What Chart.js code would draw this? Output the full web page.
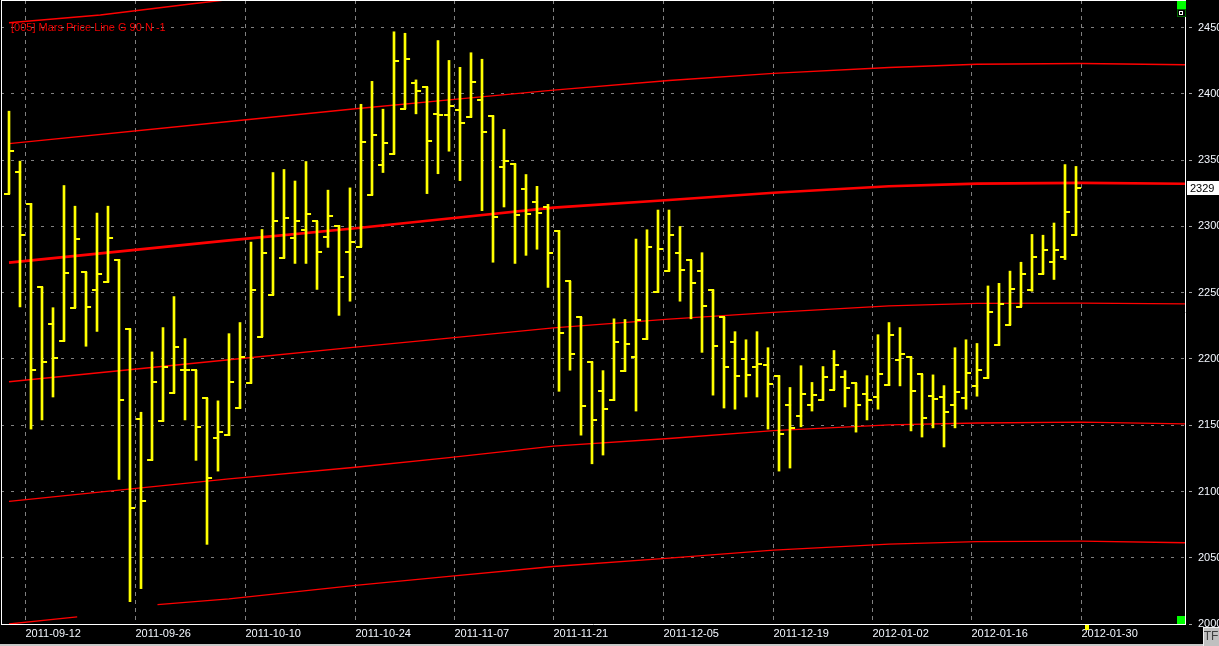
<!DOCTYPE html>
<html>
<head>
<meta charset="utf-8">
<script src="https://cdn.jsdelivr.net/npm/chart.js@4.4.1/dist/chart.umd.min.js"></script>
<style>
  html, body { margin: 0; padding: 0; background: #000; }
  canvas { display: block; }
</style>
</head>
<body>
<canvas id="chart" width="1219" height="646"></canvas>
<script>
// date labels and the bar each one starts at
const dateLabels = ['2011-09-12', '2011-09-26', '2011-10-10', '2011-10-24', '2011-11-07', '2011-11-21',
                    '2011-12-05', '2011-12-19', '2012-01-02', '2012-01-16', '2012-01-30'];
const dateBars = [2, 12, 22, 32, 41, 50, 60, 70, 79, 88, 98];
const priceTicks = [2000, 2050, 2100, 2150, 2200, 2250, 2300, 2350, 2400, 2450];

// daily bars
const opens = [2324.5, 2341.2, 2317, 2254, 2226.3, 2213.4, 2238.7, 2265.5, 2252.2, 2258,
  2275, 2222.6, 2154.6, 2123.5, 2152.9, 2174.2, 2191.8, 2191.5, 2170.4, 2140.2,
  2142.8, 2162.7, 2181.7, 2216.8, 2248.5, 2276.4, 2291.4, 2297.5, 2303.8, 2292.3,
  2300.6, 2281, 2284.5, 2323.7, 2346.4, 2354.5, 2389, 2408.3, 2405.2, 2385,
  2384.4, 2387.9, 2382.4, 2395.4, 2383.6, 2345, 2347.3, 2328.6, 2318.8, 2314.7,
  2296.9, 2258.6, 2231.5, 2197.8, 2175.6, 2168.7, 2190.6, 2201.3, 2214.8, 2250.2,
  2266.6, 2280.2, 2274.4, 2266.1, 2252.2, 2231.5, 2212.5, 2199.8, 2193.8, 2195.2,
  2187.4, 2165, 2156.9, 2165, 2168.7, 2176.8, 2186.3, 2181.7, 2173.6, 2171,
  2180, 2199.2, 2201.5, 2188.3, 2171.9, 2171, 2165, 2170.4, 2179.4, 2185.4,
  2210.2, 2225.7, 2239.6, 2251.7, 2264.3, 2273.5, 2277.3, 2293.4];
const highs = [2387, 2349.3, 2317.3, 2254.3, 2238.7, 2330.9, 2315.3, 2265.5, 2310.1, 2315.3,
  2275, 2222.6, 2159.8, 2205.3, 2223.7, 2247.1, 2215.4, 2191.5, 2170.4, 2168.4,
  2219.1, 2227.5, 2288.2, 2297.7, 2340.7, 2343, 2334.3, 2349, 2303.8, 2327.4,
  2300.6, 2329.1, 2392.2, 2409.5, 2388.5, 2446.9, 2445.8, 2410.6, 2405.2, 2440.3,
  2425.3, 2420.1, 2431.1, 2426.2, 2383.6, 2373.2, 2347.3, 2339.2, 2330.3, 2316.7,
  2296.9, 2258.6, 2231.5, 2197.8, 2191.2, 2230.3, 2229.8, 2290.5, 2297.5, 2312.4,
  2312.4, 2300, 2274.4, 2280.2, 2252.2, 2231.5, 2220.6, 2214.5, 2220.6, 2208.5,
  2187.4, 2178.5, 2194.9, 2182.3, 2194.3, 2206.4, 2191.2, 2181.7, 2187.4, 2218.3,
  2227.5, 2223.7, 2201.5, 2188.3, 2188, 2179.9, 2208.5, 2214.5, 2211.7, 2255.1,
  2257.1, 2266.3, 2273, 2294, 2293.4, 2302.6, 2346.7, 2345.3];
const lows = [2324.5, 2239.3, 2147.1, 2154, 2171.3, 2213.4, 2238.7, 2209.6, 2220.8, 2258,
  2109.1, 2016.9, 2026.7, 2123.5, 2152.9, 2174.2, 2154, 2123.5, 2060.1, 2115.4,
  2142.2, 2162.7, 2181.7, 2216.8, 2248.2, 2276.1, 2272.1, 2272.1, 2252.5, 2284.2,
  2232.9, 2243.6, 2284.5, 2323.7, 2340.7, 2354.5, 2389, 2385, 2324.8, 2339.8,
  2356.8, 2334.6, 2382.4, 2311.9, 2273, 2314.7, 2272.1, 2278.2, 2282.8, 2254,
  2175.6, 2191.5, 2142.5, 2120.9, 2127.5, 2168.7, 2190.6, 2160.7, 2214.8, 2250.2,
  2266.3, 2243.6, 2230.3, 2205, 2172.7, 2163, 2162.1, 2171.3, 2171.3, 2147.1,
  2115.4, 2117.7, 2148.8, 2160.7, 2168.7, 2176.8, 2163.8, 2144.8, 2154, 2162.1,
  2179.9, 2179.7, 2145.7, 2141.1, 2148, 2133.6, 2148, 2162.1, 2171.9, 2185.4,
  2210.2, 2225.7, 2239.6, 2251.1, 2264, 2260, 2275, 2293.4];
const closes = [2357.1, 2293.7, 2191.8, 2197.8, 2200.4, 2265.2, 2290.8, 2239.6, 2264.3, 2291.4,
  2168.7, 2087.5, 2093, 2182.5, 2194.1, 2208.7, 2192, 2148.6, 2110.3, 2144.8,
  2182.5, 2201.3, 2252.2, 2280.2, 2304.4, 2306.7, 2304.4, 2309.5, 2281, 2308.1,
  2261.5, 2288.5, 2363.7, 2369.2, 2363.1, 2425, 2426.2, 2402, 2364.6, 2384.4,
  2390.8, 2378.1, 2408.9, 2371.2, 2307.2, 2349.6, 2308.7, 2309.5, 2310.4, 2279.6,
  2219.4, 2203.6, 2164.4, 2153.7, 2162.1, 2212.5, 2211.1, 2229.5, 2284.8, 2283.3,
  2293.7, 2267.5, 2257.7, 2239.9, 2209.6, 2193.8, 2186.9, 2187.7, 2196.1, 2180.8,
  2143.1, 2147.7, 2173.6, 2172.7, 2186.3, 2195.2, 2177.9, 2165, 2168.7, 2188.3,
  2218, 2203.9, 2175.6, 2155.5, 2169.6, 2159.8, 2174.8, 2189.2, 2191.5, 2235.8,
  2241.6, 2253.1, 2264.3, 2277.3, 2281.9, 2281.9, 2310.7, 2329.3];

// Mars price lines
const marsX = [0, 20, 31.5, 40, 49.5, 60, 69.5, 80, 88, 97.5, 107];
const marsUpper = [2362.5, 2379.2, 2388.8, 2395.5, 2402.9, 2410.1, 2415.5, 2420, 2422.4, 2423, 2422];
const marsMain = [2272.7, 2289.5, 2298.6, 2306, 2314.2, 2320, 2325.4, 2330.3, 2332.3, 2332.9, 2332.2];
const marsMid = [2182.8, 2199.4, 2209, 2215.7, 2223.4, 2230, 2235.2, 2240, 2241.9, 2242.2, 2241.5];
const marsLow = [2092.6, 2109.5, 2118.3, 2125.6, 2134.2, 2140, 2146, 2150.2, 2151.7, 2152.3, 2151];
const marsTopX = [0, 8.3, 16.5, 20];
const marsTop = [2453.8, 2459.6, 2467.9, 2471.2];
const marsBottomX = [0, 6.2, 10, 13.5, 20, 31.5, 40, 49.5, 60, 69.5, 80, 88, 97.5, 107];
const marsBottom = [2000, 2005.3, null, 2014.6, 2019, 2029.1, 2036, 2043.4, 2049.7, 2055.8, 2060.3, 2062.2, 2062.5, 2061.3];

const YELLOW = '#ffff00';
const RED = '#ff0000';

function tickImage(left) {
  const c = document.createElement('canvas');
  c.width = 14; c.height = 2;
  const g = c.getContext('2d');
  g.fillStyle = YELLOW;
  g.fillRect(left ? 2 : 6, 0, 6, 2);
  return c;
}

function marsLine(xs, ys, width) {
  return {
    type: 'line',
    data: xs.map((x, i) => ({x: x, y: ys[i]})),
    borderColor: RED,
    borderWidth: width,
    pointRadius: 0,
    tension: 0,
    spanGaps: false,
    order: 3
  };
}

const frame = {
  id: 'frame',
  afterDraw(chart) {
    const ctx = chart.ctx;
    const a = chart.chartArea;
    const y = chart.scales.y;
    const x = chart.scales.x;
    ctx.save();
    // left and top border
    ctx.strokeStyle = '#ffffff';
    ctx.lineWidth = 1;
    ctx.beginPath();
    ctx.moveTo(a.left + 0.5, a.top);
    ctx.lineTo(a.left + 0.5, a.bottom);
    ctx.moveTo(a.left, a.top + 0.5);
    ctx.lineTo(a.right, a.top + 0.5);
    ctx.stroke();

    // indicator name
    ctx.font = '11px "Liberation Sans", Arial, sans-serif';
    ctx.fillStyle = '#f00000';
    ctx.textBaseline = 'middle';
    ctx.textAlign = 'left';
    ctx.fillText('[005] Mars Price Line G 90 N -1', a.left + 10, 28);

    // last price box
    const last = closes[closes.length - 1];
    const py = Math.round(y.getPixelForValue(last));
    ctx.fillStyle = '#ffffff';
    ctx.fillRect(a.right + 2, py - 7, 32, 14);
    ctx.fillStyle = '#000000';
    ctx.fillText(String(Math.round(last)), a.right + 5, py + 0.5);

    // corner buttons
    ctx.fillStyle = '#00ff00';
    ctx.fillRect(a.right - 8, 1, 9, 9);
    ctx.fillStyle = '#006400';
    ctx.fillRect(a.right - 8, 9, 9, 8);
    ctx.fillStyle = '#000000';
    ctx.fillRect(a.right - 7, 10, 7, 6);
    ctx.strokeStyle = '#ffffff';
    ctx.strokeRect(a.right - 5.5, 11.5, 3, 3);
    ctx.fillStyle = '#00ff00';
    ctx.fillRect(a.right - 8, a.bottom - 8, 8, 8);

    // next-bar marker
    ctx.fillStyle = YELLOW;
    ctx.fillRect(Math.round(x.getPixelForValue(dateBars[dateBars.length - 1])) - 2, a.bottom + 1, 4, 5);

    // bottom strip and TF button
    ctx.fillStyle = '#c8c8c8';
    ctx.fillRect(0, 644, 1203, 2);
    ctx.fillStyle = '#c0c0c0';
    ctx.fillRect(1203, 627, 16, 19);
    ctx.fillStyle = '#f0f0f0';
    ctx.fillRect(1203, 627, 16, 1);
    ctx.fillRect(1203, 627, 1, 19);
    ctx.fillStyle = '#404040';
    ctx.font = '12px "Liberation Sans", Arial, sans-serif';
    ctx.textAlign = 'center';
    ctx.fillText('TF', 1211, 637);
    ctx.restore();
  }
};

Chart.defaults.font.family = '"Liberation Sans", Arial, sans-serif';
Chart.defaults.font.size = 11;

new Chart(document.getElementById('chart'), {
  type: 'line',
  data: {
    datasets: [
      {
        type: 'line',
        data: opens.map((v, i) => ({x: i, y: v})),
        showLine: false,
        pointStyle: tickImage(true),
        pointRadius: 4,
        pointHoverRadius: 4,
        order: 0
      },
      {
        type: 'line',
        data: closes.map((v, i) => ({x: i, y: v})),
        showLine: false,
        pointStyle: tickImage(false),
        pointRadius: 4,
        pointHoverRadius: 4,
        order: 0
      },
      {
        type: 'bar',
        data: highs.map((h, i) => ({x: i, y: [lows[i], h]})),
        backgroundColor: YELLOW,
        borderWidth: 0,
        barThickness: 2,
        order: 1
      },
      marsLine(marsTopX, marsTop, 1.5),
      marsLine(marsX, marsUpper, 1.4),
      marsLine(marsX, marsMain, 2.6),
      marsLine(marsX, marsMid, 1.3),
      marsLine(marsX, marsLow, 1.3),
      marsLine(marsBottomX, marsBottom, 1.3)
    ]
  },
  options: {
    responsive: false,
    animation: false,
    layout: { autoPadding: false, padding: { left: 1, top: 0, right: 0, bottom: 0 } },
    plugins: {
      legend: { display: false },
      tooltip: { enabled: false }
    },
    scales: {
      x: {
        type: 'linear',
        min: -0.7273,
        max: 106.909,
        offset: false,
        afterBuildTicks: s => { s.ticks = dateBars.map(b => ({value: b - 0.5})); },
        afterFit: s => { s.height = 22; s.paddingLeft = 0; s.paddingRight = 0; },
        grid: { color: '#808080', lineWidth: 1, drawTicks: false, offset: false },
        border: { color: '#ffffff', width: 1, dash: [4, 4] },
        ticks: {
          align: 'start',
          padding: 3,
          color: '#f4f8ff',
          autoSkip: false,
          maxRotation: 0,
          callback: (v, i) => dateLabels[i]
        }
      },
      y: {
        type: 'linear',
        position: 'right',
        min: 2000,
        max: 2470.9,
        beginAtZero: false,
        afterBuildTicks: s => { s.ticks = priceTicks.map(v => ({value: v})); },
        afterFit: s => { s.width = 34; s.paddingTop = 0; s.paddingBottom = 0; },
        grid: {
          color: c => (c.tick && c.tick.value === 2000) ? 'rgba(0,0,0,0)' : '#808080',
          tickColor: '#a0a0a0',
          tickLength: 7,
          tickBorderDash: [0, 3, 4]
        },
        border: { color: '#ffffff', width: 1, dash: [3, 7] },
        ticks: {
          padding: 6,
          color: '#f4f8ff',
          callback: v => String(v)
        }
      }
    }
  },
  plugins: [frame]
});
</script>
</body>
</html>
